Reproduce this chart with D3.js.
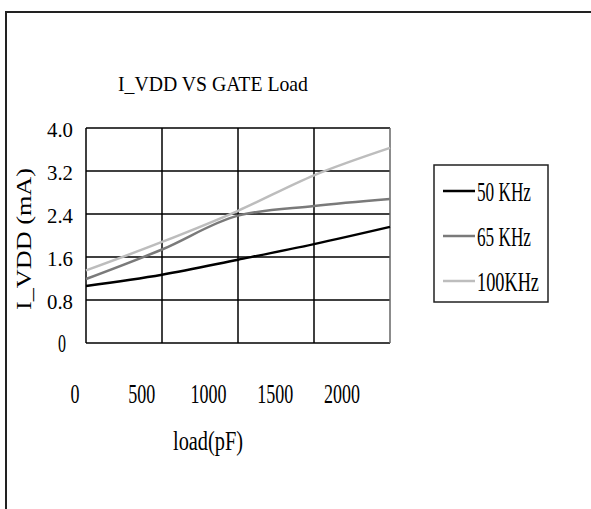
<!DOCTYPE html>
<html>
<head>
<meta charset="utf-8">
<script src="https://cdn.jsdelivr.net/npm/d3@7"></script>
<style>
  body { margin: 0; background: #fff; }
  text { font-family: "Liberation Serif", "DejaVu Serif", serif; fill: #000; }
</style>
</head>
<body>
<div id="chart"></div>
<script>
// data
var loads = [0, 500, 1000, 1500, 2000]
var seriesNames = ["50 KHz", "65 KHz", "100KHz"]
var i50 = [1.06, 1.27, 1.55, 1.84, 2.16]
var i65 = [1.19, 1.74, 2.37, 2.55, 2.68]
var i100 = [1.35, 1.88, 2.46, 3.12, 3.63]
var yTicks = [0, 0.8, 1.6, 2.4, 3.2, 4.0]
var yTickLabels = ["0", "0.8", "1.6", "2.4", "3.2", "4.0"]
var colors = ["#000000", "#7a7a7a", "#bdbdbd"]

var series = [i50, i65, i100]

var width = 591, height = 509
var svg = d3.select("#chart").append("svg")
    .attr("width", width)
    .attr("height", height)

// outer frame
svg.append("path")
    .attr("d", "M6,509V12H591")
    .attr("fill", "none")
    .attr("stroke", "#222")
    .attr("stroke-width", 2)

var x = d3.scaleLinear().domain([0, 2000]).range([86, 390])
var y = d3.scaleLinear().domain([0, 4]).range([343, 128])
// tick labels sit on a narrower spacing than the grid
var xLabel = d3.scaleLinear().domain([0, 2000]).range([75, 342])

// grid
var g = svg.append("g")
g.selectAll("line.h")
    .data(yTicks)
    .enter().append("line")
    .attr("x1", x(0)).attr("x2", x(2000))
    .attr("y1", function(d){ return y(d) })
    .attr("y2", function(d){ return y(d) })
    .attr("stroke", "#000")
    .attr("stroke-width", 1.5)
g.selectAll("line.v")
    .data(loads)
    .enter().append("line")
    .attr("y1", y(0)).attr("y2", y(4))
    .attr("x1", function(d){ return x(d) })
    .attr("x2", function(d){ return x(d) })
    .attr("stroke", function(d){ return d == 2000 ? "#666" : "#000" })
    .attr("stroke-width", 1.5)

// lines
var line = d3.line()
    .x(function(d, i){ return x(loads[i]) })
    .y(function(d){ return y(d) })
    .curve(d3.curveMonotoneX)

svg.selectAll("path.series")
    .data(series)
    .enter().append("path")
    .attr("d", line)
    .attr("fill", "none")
    .attr("stroke", function(d, i){ return colors[i] })
    .attr("stroke-width", 2.5)

// y tick labels
svg.selectAll("text.ytick")
    .data(yTicks)
    .enter().append("text")
    .attr("x", function(d){ return d == 0 ? 62 : 73 })
    .attr("y", function(d){ return y(d) + 9 })
    .attr("text-anchor", function(d){ return d == 0 ? "middle" : "end" })
    .attr("textLength", function(d){ return d == 0 ? 8 : 26 })
    .attr("lengthAdjust", "spacingAndGlyphs")
    .style("font-size", function(d){ return d == 0 ? "25px" : "21px" })
    .text(function(d, i){ return yTickLabels[i] })

// x tick labels
svg.selectAll("text.xtick")
    .data(loads)
    .enter().append("text")
    .attr("x", function(d){ return xLabel(d) })
    .attr("y", 403)
    .attr("text-anchor", "middle")
    .attr("textLength", function(d){ return String(d).length * 9 })
    .attr("lengthAdjust", "spacingAndGlyphs")
    .style("font-size", "27px")
    .text(function(d){ return d })

// title
svg.append("text")
    .attr("x", 213)
    .attr("y", 91)
    .attr("text-anchor", "middle")
    .attr("textLength", 190)
    .attr("lengthAdjust", "spacingAndGlyphs")
    .style("font-size", "22px")
    .text("I_VDD VS GATE Load")

// axis titles
svg.append("text")
    .attr("transform", "translate(31,239) rotate(-90)")
    .attr("text-anchor", "middle")
    .attr("textLength", 142)
    .attr("lengthAdjust", "spacingAndGlyphs")
    .style("font-size", "22px")
    .text("I_VDD (mA)")

svg.append("text")
    .attr("x", 208)
    .attr("y", 450)
    .attr("text-anchor", "middle")
    .attr("textLength", 70)
    .attr("lengthAdjust", "spacingAndGlyphs")
    .style("font-size", "27px")
    .text("load(pF)")

// legend
var legend = svg.append("g")
legend.append("rect")
    .attr("x", 434).attr("y", 165)
    .attr("width", 114).attr("height", 137)
    .attr("fill", "none")
    .attr("stroke", "#222")
    .attr("stroke-width", 1.5)

var item = legend.selectAll("g.item")
    .data(seriesNames)
    .enter().append("g")
    .attr("transform", function(d, i){ return "translate(0," + (191 + 45 * i) + ")" })
item.append("line")
    .attr("x1", 443).attr("x2", 475)
    .attr("y1", 0).attr("y2", 0)
    .attr("stroke", function(d, i){ return colors[i] })
    .attr("stroke-width", 2.5)
item.append("text")
    .attr("x", 477)
    .attr("y", 10)
    .attr("textLength", function(d, i){ return i == 2 ? 62 : 54 })
    .attr("lengthAdjust", "spacingAndGlyphs")
    .style("font-size", "28px")
    .text(function(d){ return d })
</script>
</body>
</html>
